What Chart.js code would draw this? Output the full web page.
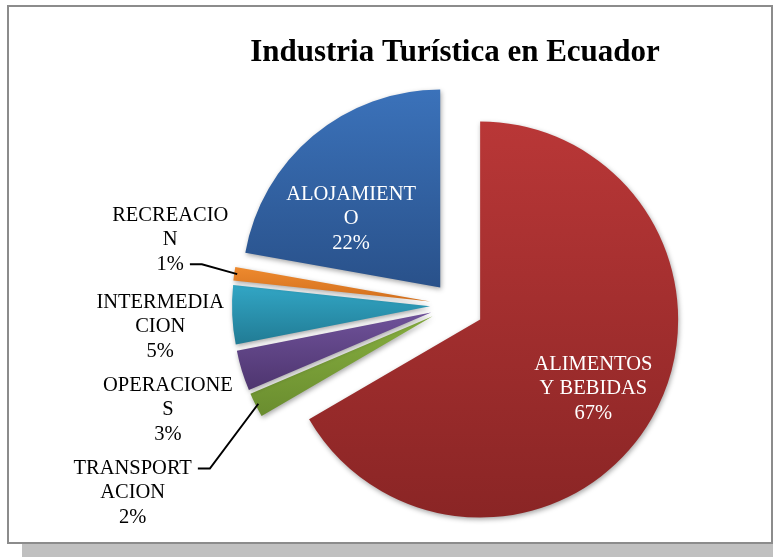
<!DOCTYPE html>
<html>
<head>
<meta charset="utf-8">
<script src="https://cdn.jsdelivr.net/npm/chart.js@4.4.1/dist/chart.umd.min.js"></script>
<style>
html,body{margin:0;padding:0;background:#fff;}
#wrap{position:relative;width:773px;height:557px;overflow:hidden;}
#shadow{position:absolute;left:22px;top:544px;width:760px;height:20px;background:#c0c0c0;}
#frame{position:absolute;left:7px;top:5px;width:766px;height:539px;border:2px solid #8c8c8c;background:#fff;box-sizing:border-box;}
#c{position:absolute;left:0;top:0;}
</style>
</head>
<body>
<div id="wrap">
  <div id="shadow"></div>
  <div id="frame"></div>
  <canvas id="c" width="773" height="557"></canvas>
</div>
<script>
// ---- data ----
const TITLE = 'Industria Turística en Ecuador';
const CATEGORIES = ['ALIMENTOS Y BEBIDAS', 'TRANSPORTACION', 'OPERACIONES', 'INTERMEDIACION', 'RECREACION', 'ALOJAMIENTO'];
const VALUES = [66.6, 2.0, 3.3, 4.8, 1.1, 22.2];
const LABEL_LINES = [['ALIMENTOS', 'Y BEBIDAS'], ['TRANSPORT', 'ACION'], ['OPERACIONE', 'S'], ['INTERMEDIA', 'CION'], ['RECREACIO', 'N'], ['ALOJAMIENT', 'O']];
const COLORS_TOP = ['#b93737', '#86ae3f', '#6f529a', '#32a6c5', '#ee8a2e', '#3b72ba'];
const COLORS_BOTTOM = ['#8a2525', '#6a8d2f', '#4e356f', '#217b94', '#d26f1d', '#29518a'];

const SERIF = '"Liberation Serif", "Times New Roman", serif';

const explodePlugin = {
  id: 'explode',
  afterDatasetsUpdate(chart, args, opts) {
    const meta = chart.getDatasetMeta(0);
    const ca = chart.chartArea;
    const cx = (ca.left + ca.right) / 2, cy = (ca.top + ca.bottom) / 2;
    meta.data.forEach((arc, i) => {
      const mid = (arc.startAngle + arc.endAngle) / 2;
      const d = opts.distances[i] || 0;
      arc.x = cx + Math.cos(mid) * d;
      arc.y = cy + Math.sin(mid) * d;
      let minY = arc.y, maxY = arc.y;
      for (let k = 0; k <= 60; k++) {
        const a = arc.startAngle + (arc.endAngle - arc.startAngle) * k / 60;
        const y = arc.y + Math.sin(a) * arc.outerRadius;
        minY = Math.min(minY, y); maxY = Math.max(maxY, y);
      }
      const g = chart.ctx.createLinearGradient(0, minY, 0, maxY);
      g.addColorStop(0, COLORS_TOP[i]);
      g.addColorStop(1, COLORS_BOTTOM[i]);
      arc.options = Object.assign({}, arc.options, {backgroundColor: g});
    });
  },
  beforeDatasetsDraw(chart) {
    const ctx = chart.ctx;
    ctx.save();
    ctx.shadowColor = 'rgba(0,0,0,0.35)';
    ctx.shadowBlur = 5;
    ctx.shadowOffsetX = 1;
    ctx.shadowOffsetY = 2;
  },
  afterDatasetsDraw(chart, args, opts) {
    const ctx = chart.ctx;
    ctx.restore();
    const meta = chart.getDatasetMeta(0);
    const total = VALUES.reduce((a, b) => a + b, 0);
    const lh = opts.lineHeight;
    ctx.save();
    ctx.font = opts.fontSize + 'px ' + SERIF;
    ctx.textAlign = 'center';
    ctx.textBaseline = 'middle';
    meta.data.forEach((arc, i) => {
      const p = opts.placement[i];
      const mid = (arc.startAngle + arc.endAngle) / 2;
      const lines = LABEL_LINES[i].concat([Math.round(VALUES[i] / total * 100) + '%']);
      let ax, ay;
      if (p.inside) {
        const a = mid + p.da * Math.PI / 180;
        ax = arc.x + Math.cos(a) * arc.outerRadius * p.r;
        ay = arc.y + Math.sin(a) * arc.outerRadius * p.r;
        ctx.fillStyle = '#ffffff';
      } else {
        const ox = arc.x + Math.cos(mid) * arc.outerRadius;
        const oy = arc.y + Math.sin(mid) * arc.outerRadius;
        ax = ox + p.dx; ay = oy + p.dy;
        ctx.fillStyle = '#000000';
        if (p.leader) {
          const li = p.leader === 'first' ? 0 : lines.length - 1;
          const ly = ay + (li - (lines.length - 1) / 2) * lh;
          const lx = ax + ctx.measureText(lines[li]).width / 2 + 6;
          ctx.save();
          ctx.strokeStyle = '#000';
          ctx.lineWidth = 2;
          ctx.beginPath();
          ctx.moveTo(lx, ly);
          ctx.lineTo(lx + 12, ly);
          ctx.lineTo(ox + Math.cos(mid) * 3 * -1, oy + Math.sin(mid) * 3 * -1);
          ctx.stroke();
          ctx.restore();
        }
      }
      lines.forEach((t, k) => {
        ctx.fillText(t, ax, ay + (k - (lines.length - 1) / 2) * lh);
      });
    });
    ctx.restore();
  }
};

new Chart(document.getElementById('c'), {
  type: 'pie',
  data: {
    labels: CATEGORIES,
    datasets: [{
      data: VALUES,
      backgroundColor: COLORS_TOP,
      borderWidth: 0
    }]
  },
  options: {
    responsive: false,
    animation: false,
    events: [],
    rotation: 0,
    radius: 198,
    layout: {padding: {left: 137, right: 0, top: 34, bottom: 18}},
    plugins: {
      legend: {display: false},
      tooltip: {enabled: false},
      title: {
        display: true,
        text: TITLE,
        color: '#000',
        font: {family: SERIF, size: 31, weight: 'bold'},
        padding: {top: 0, bottom: 0}
      },
      explode: {
        distances: [29, 25, 25, 25, 25, 23],
        fontSize: 20.5,
        lineHeight: 24.5,
        placement: [
          {inside: true, da: 1.5, r: 0.67},
          {dx: -123, dy: 88, leader: 'first'},
          {dx: -74, dy: 39},
          {dx: -72, dy: 12},
          {dx: -64, dy: -34, leader: 'last'},
          {inside: true, da: -12.5, r: 0.568}
        ]
      }
    }
  },
  plugins: [explodePlugin]
});
</script>
</body>
</html>
